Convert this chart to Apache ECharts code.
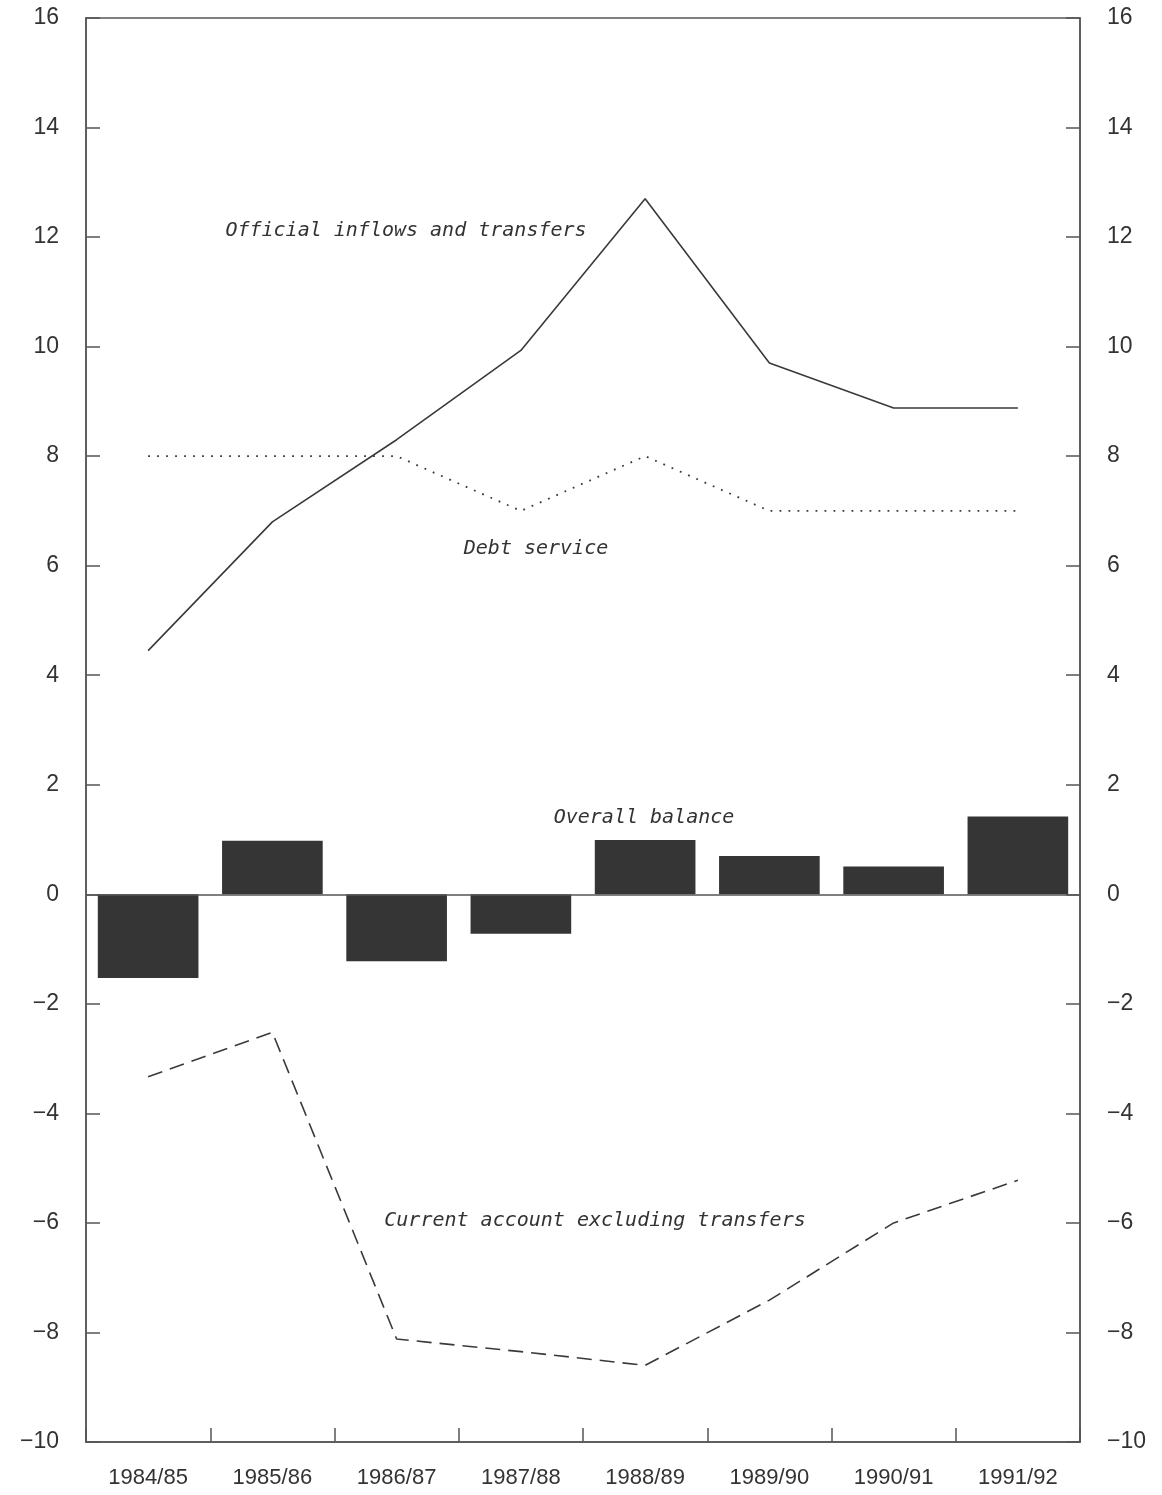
<!DOCTYPE html>
<html>
<head>
<meta charset="utf-8">
<script src="https://cdn.jsdelivr.net/npm/echarts@6/dist/echarts.min.js"></script>
<style>
html,body{margin:0;padding:0;background:#fff;}
#c{width:1162px;height:1495px;}
</style>
</head>
<body>
<div id="c"></div>
<script>
var categories = ['1984/85','1985/86','1986/87','1987/88','1988/89','1989/90','1990/91','1991/92'];
var officialInflows = [4.45, 6.8, 8.3, 9.93, 12.7, 9.7, 8.88, 8.88];
var debtService = [8.0, 8.0, 8.0, 7.0, 8.0, 7.0, 7.0, 7.0];
var overallBalance = [-1.53, 0.98, -1.22, -0.72, 0.99, 0.7, 0.51, 1.42];
var currentAccount = [-3.33, -2.52, -8.12, -8.35, -8.6, -7.41, -6.0, -5.22];
var yTicks = {min: -10, max: 16, interval: 2};
var annotations = [
  {text: 'Official inflows and transfers', x: 406, y: 231},
  {text: 'Debt service', x: 536, y: 549},
  {text: 'Overall balance', x: 644, y: 818},
  {text: 'Current account excluding transfers', x: 595, y: 1221}
];

var chart = echarts.init(document.getElementById('c'), null, {renderer: 'canvas'});
var ink = '#3a3a3a';
var axisColor = '#555';
var labelFont = {color: '#333', fontFamily: 'Liberation Sans', fontSize: 23};

function yAxisDef(pos) {
  return {
    type: 'value', position: pos,
    min: yTicks.min, max: yTicks.max, interval: yTicks.interval,
    axisLine: {show: true, lineStyle: {color: axisColor, width: 1.5}},
    axisTick: {show: true, inside: true, length: 14, lineStyle: {color: axisColor, width: 1.5}},
    axisLabel: Object.assign({margin: 27, formatter: function(v){ return v < 0 ? '\u2212' + Math.abs(v) : String(v); }}, labelFont),
    splitLine: {show: false}
  };
}

chart.setOption({
  animation: false,
  backgroundColor: '#fff',
  grid: {left: 86, right: 82, top: 18, bottom: 53, show: true, borderColor: axisColor, borderWidth: 1.5},
  xAxis: {
    type: 'category', data: categories, boundaryGap: true,
    axisLine: {show: true, onZero: false, lineStyle: {color: axisColor, width: 1.5}},
    axisTick: {show: true, inside: true, length: 14, interval: 0, lineStyle: {color: axisColor, width: 1.5}},
    axisLabel: Object.assign({}, labelFont, {margin: 25, interval: 0, fontSize: 22}),
    splitLine: {show: false}
  },
  yAxis: [yAxisDef('left'), yAxisDef('right')],
  series: [
    {
      name: 'Overall balance', type: 'bar', data: overallBalance, barWidth: '81%',
      itemStyle: {color: '#353535'},
      markLine: {
        silent: true, symbol: ['none', 'none'], label: {show: false},
        lineStyle: {color: axisColor, width: 1.5, type: 'solid'},
        data: [{yAxis: 0}]
      }
    },
    {
      name: 'Official inflows and transfers', type: 'line', data: officialInflows,
      symbol: 'none', lineStyle: {color: ink, width: 1.6}
    },
    {
      name: 'Debt service', type: 'line', data: debtService,
      symbol: 'none', lineStyle: {color: ink, width: 1.8, type: [1.8, 7.2]}
    },
    {
      name: 'Current account excluding transfers', type: 'line', data: currentAccount,
      symbol: 'none', lineStyle: {color: ink, width: 1.6, type: [15, 8]}
    }
  ],
  graphic: annotations.map(function(a){
    return {
      type: 'text', x: a.x, y: a.y,
      style: {
        text: a.text, fill: '#333', fontFamily: 'DejaVu Sans Mono', fontStyle: 'italic',
        fontSize: 20, align: 'center', verticalAlign: 'middle'
      }
    };
  })
});
</script>
</body>
</html>
